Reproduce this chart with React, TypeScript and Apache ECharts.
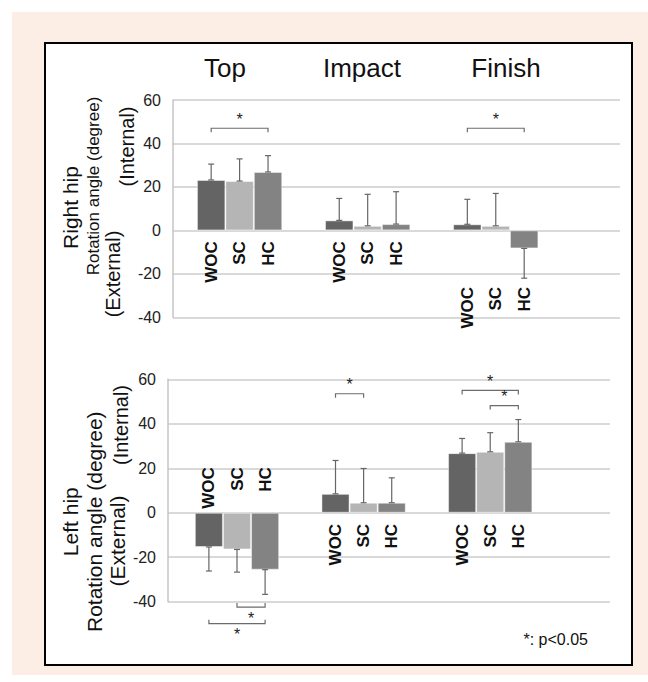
import React, { useEffect, useRef } from 'react';
import * as echarts from 'echarts';

// ---- data ----
const categories = ['Top', 'Impact', 'Finish'];
const groups = ['WOC', 'SC', 'HC'];
const groupColors = ['#646464', '#b5b5b5', '#838383'];

const yMin = -40;
const yMax = 60;
const yStep = 20;

// Right hip (mean, SD)
const rightHipWOC = [23.2, 4.6, 2.8];
const rightHipSC = [22.7, 2.1, 2.1];
const rightHipHC = [26.9, 2.9, -8.3];
const rightHipSdWOC = [7.3, 10.1, 11.5];
const rightHipSdSC = [10.2, 14.5, 14.9];
const rightHipSdHC = [7.5, 14.9, 13.7];

// Left hip (mean, SD)
const leftHipWOC = [-15.4, 8.5, 26.8];
const leftHipSC = [-16.5, 4.5, 27.4];
const leftHipHC = [-25.6, 4.5, 31.9];
const leftHipSdWOC = [10.8, 15.0, 6.6];
const leftHipSdSC = [10.2, 15.4, 8.6];
const leftHipSdHC = [11.1, 11.2, 10.0];

// group-label anchor level (degree) for each category
const rightHipLabelY = [-5, -5, -26];
const leftHipLabelY = [20.5, -5, -5];

// significance brackets: [category, fromGroup, toGroup, level]
const rightHipSig = [
  [0, 0, 2, 47],
  [2, 0, 2, 47],
];
const leftHipSig = [
  [1, 0, 1, 53.5],
  [2, 0, 2, 55],
  [2, 1, 2, 48.2],
  [0, 1, 2, -42.4],
  [0, 0, 2, -49.9],
];

const FONT = 'Liberation Sans, Arial, Helvetica, sans-serif';
const BW = 0.222; // bar width as share of category spacing

export default function App() {
  const ref = useRef<HTMLDivElement>(null);

  useEffect(() => {
    document.body.style.margin = '0';
    if (!ref.current) return;
    const chart = echarts.init(ref.current, undefined, { renderer: 'svg' });

    const panels = [
      {
        means: [rightHipWOC, rightHipSC, rightHipHC],
        sds: [rightHipSdWOC, rightHipSdSC, rightHipSdHC],
        labelY: rightHipLabelY,
        sig: rightHipSig,
      },
      {
        means: [leftHipWOC, leftHipSC, leftHipHC],
        sds: [leftHipSdWOC, leftHipSdSC, leftHipSdHC],
        labelY: leftHipLabelY,
        sig: leftHipSig,
      },
    ];

    const series: any[] = [];
    panels.forEach((p, pi) => {
      groups.forEach((g, gi) => {
        series.push({
          type: 'bar',
          name: g,
          xAxisIndex: pi,
          yAxisIndex: pi,
          barWidth: BW * 100 + '%',
          barGap: '0%',
          itemStyle: { color: groupColors[gi], borderColor: 'rgba(255,255,255,0.45)', borderWidth: 1 },
          data: categories.map((_, ci) => [ci, p.means[gi][ci]]),
          z: 2,
        });
      });
      // error bars
      const errData: number[][] = [];
      groups.forEach((_, gi) => {
        categories.forEach((_, ci) => {
          errData.push([ci, gi, p.means[gi][ci], p.sds[gi][ci]]);
        });
      });
      series.push({
        type: 'custom',
        xAxisIndex: pi,
        yAxisIndex: pi,
        z: 4,
        clip: false,
        data: errData,
        encode: { x: 0, y: 2 },
        renderItem: (params: any, api: any) => {
          const ci = api.value(0), gi = api.value(1), v = api.value(2), sd = api.value(3);
          const x = ci + (gi - 1) * BW;
          const end = v >= 0 ? v + sd : v - sd;
          const p0 = api.coord([x, v]);
          const p1 = api.coord([x, end]);
          const h = 3;
          const st = { stroke: '#666', lineWidth: 1.2 };
          return {
            type: 'group',
            children: [
              { type: 'line', shape: { x1: p0[0], y1: p0[1], x2: p1[0], y2: p1[1] }, style: st },
              { type: 'line', shape: { x1: p1[0] - h, y1: p1[1], x2: p1[0] + h, y2: p1[1] }, style: st },
              { type: 'line', shape: { x1: p0[0] - h, y1: p0[1], x2: p0[0] + h, y2: p0[1] }, style: st },
            ],
          };
        },
      });
      // group labels
      const lblData: number[][] = [];
      categories.forEach((_, ci) => {
        groups.forEach((_, gi) => lblData.push([ci, gi, p.labelY[ci]]));
      });
      series.push({
        type: 'custom',
        xAxisIndex: pi,
        yAxisIndex: pi,
        z: 5,
        clip: false,
        data: lblData,
        encode: { x: 0, y: 2 },
        renderItem: (params: any, api: any) => {
          const ci = api.value(0), gi = api.value(1), y = api.value(2);
          const pt = api.coord([ci + (gi - 1) * BW, y]);
          return {
            type: 'text',
            x: pt[0],
            y: pt[1],
            rotation: Math.PI / 2,
            style: {
              text: groups[gi],
              fontSize: 17,
              fontWeight: 'bold',
              fontFamily: FONT,
              fill: '#111',
              align: 'right',
              verticalAlign: 'middle',
            },
          };
        },
      });
      // significance brackets
      series.push({
        type: 'custom',
        xAxisIndex: pi,
        yAxisIndex: pi,
        z: 5,
        clip: false,
        data: p.sig,
        encode: { x: 0, y: 3 },
        renderItem: (params: any, api: any) => {
          const ci = api.value(0), a = api.value(1), b = api.value(2), y = api.value(3);
          const p1 = api.coord([ci + (a - 1) * BW, y]);
          const p2 = api.coord([ci + (b - 1) * BW, y]);
          const dir = y > 0 ? 1 : -1;
          const t = 4;
          return {
            type: 'group',
            children: [
              {
                type: 'polyline',
                shape: {
                  points: [
                    [p1[0], p1[1] + t * dir],
                    [p1[0], p1[1]],
                    [p2[0], p2[1]],
                    [p2[0], p2[1] + t * dir],
                  ],
                },
                style: { stroke: '#6c6c6c', fill: 'none', lineWidth: 1.2 },
              },
              {
                type: 'text',
                x: (p1[0] + p2[0]) / 2,
                y: dir > 0 ? p1[1] - 1 : p1[1] + 3,
                style: {
                  text: '*',
                  fontSize: 16,
                  fontFamily: FONT,
                  fill: '#222',
                  align: 'center',
                  verticalAlign: dir > 0 ? 'bottom' : 'top',
                },
              },
            ],
          };
        },
      });
    });

    const grids = [
      { left: 173, top: 100, width: 447, height: 217.3 },
      { left: 168, top: 379.3, width: 442, height: 222.4 },
    ];
    const xRanges = [
      [-0.52, 2.97],
      [-0.545, 2.946],
    ];

    const rot = (text: string, x: number, y: number, size: number) => ({
      type: 'text',
      x,
      y,
      rotation: Math.PI / 2,
      style: {
        text,
        fontSize: size,
        fontFamily: FONT,
        fill: '#111',
        align: 'center',
        verticalAlign: 'middle',
      },
    });

    const titleX = [225, 362, 506];

    chart.setOption({
      animation: false,
      grid: grids,
      xAxis: grids.map((_, i) => ({
        type: 'value',
        gridIndex: i,
        min: xRanges[i][0],
        max: xRanges[i][1],
        show: false,
      })),
      yAxis: grids.map((_, i) => ({
        type: 'value',
        gridIndex: i,
        min: yMin,
        max: yMax,
        interval: yStep,
        axisLine: { show: true, onZero: false, lineStyle: { color: '#c4c4c4', width: 1.5 } },
        axisTick: { show: false },
        axisLabel: { fontSize: 16, fontFamily: FONT, color: '#222', margin: 12 },
        splitLine: { lineStyle: { color: '#cdcdcd', width: 1.5 } },
      })),
      graphic: [
        ...categories.map((c, i) => ({
          type: 'text',
          x: titleX[i],
          y: 68,
          style: { text: c, fontSize: 26, fontFamily: FONT, fill: '#111', align: 'center', verticalAlign: 'middle' },
        })),
        rot('Right hip', 70.7, 207.5, 21),
        rot('Rotation angle (degree)', 93.3, 186, 17),
        rot('(Internal)', 127.3, 146.5, 20),
        rot('(External)', 113, 274, 20),
        rot('Left hip', 70.7, 521.7, 21),
        rot('Rotation angle (degree)', 94.3, 521.7, 21),
        rot('(Internal)', 121, 425, 20),
        rot('(External)', 117, 541, 21),
        {
          type: 'text',
          x: 588,
          y: 639,
          style: { text: '*: p<0.05', fontSize: 16, fontFamily: FONT, fill: '#111', align: 'right', verticalAlign: 'middle' },
        },
      ],
      series,
    });

    return () => chart.dispose();
  }, []);

  return (
    <div style={{ position: 'relative', width: 648, height: 682, background: '#fff', overflow: 'hidden' }}>
      <div style={{ position: 'absolute', left: 12, top: 12, width: 636, height: 663, background: '#fdeee5' }} />
      <div
        style={{
          position: 'absolute',
          left: 44,
          top: 42,
          width: 589,
          height: 624,
          background: '#fff',
          border: '2px solid #000',
          boxSizing: 'border-box',
        }}
      />
      <div ref={ref} style={{ position: 'absolute', left: 0, top: 0, width: 648, height: 682 }} />
    </div>
  );
}
